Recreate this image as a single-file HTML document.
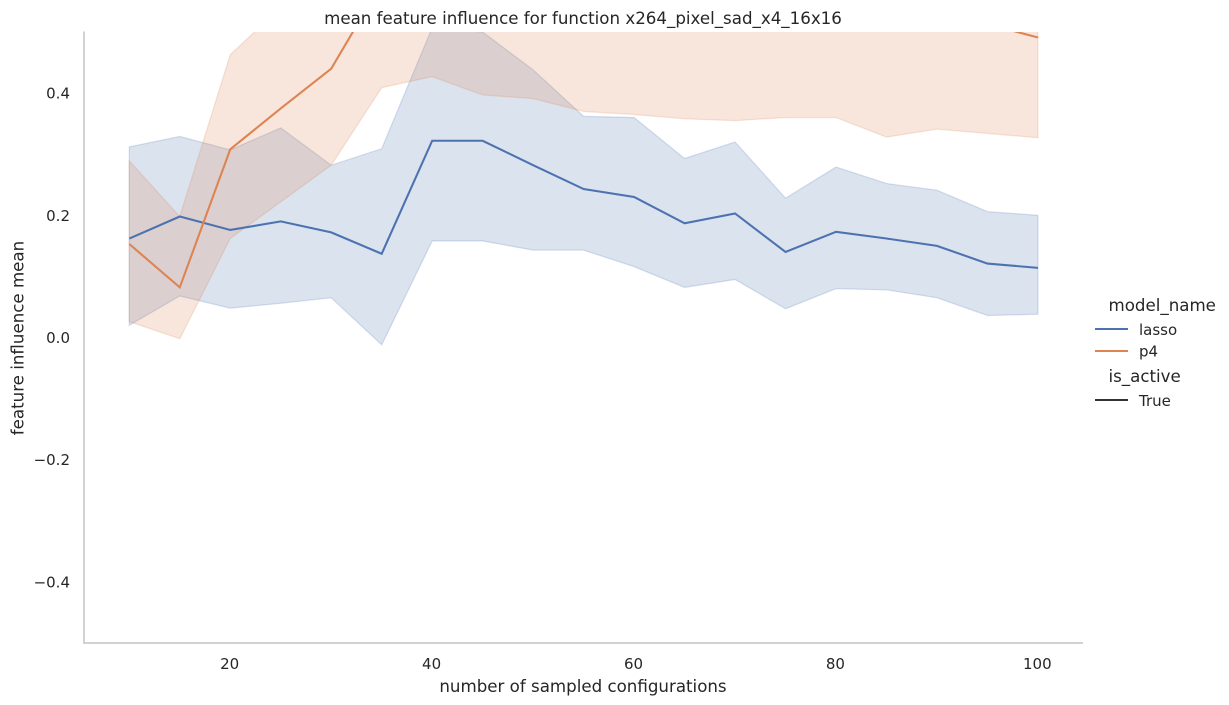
<!DOCTYPE html>
<html lang="en">
<head>
<meta charset="utf-8">
<title>mean feature influence for function x264_pixel_sad_x4_16x16</title>
<style>
html,body{margin:0;padding:0;background:#fff;width:1229px;height:705px;overflow:hidden}
svg{display:block}
text{font-family:"DejaVu Sans","Liberation Sans",sans-serif;fill:#262626}
.tick{font-size:15px}
.label{font-size:16.67px}
</style>
</head>
<body>
<svg id="chart" xmlns="http://www.w3.org/2000/svg" width="1229" height="705" viewBox="0 0 1229 705">
  <defs>
    <clipPath id="plot-clip"><rect x="84" y="32" width="999" height="611"/></clipPath>
  </defs>
  <g id="bands" clip-path="url(#plot-clip)"></g>
  <g id="lines" clip-path="url(#plot-clip)"></g>
  <line x1="84" y1="31.5" x2="84" y2="643" stroke="#cccccc" stroke-width="1.75"/>
  <line x1="83.1" y1="643" x2="1083" y2="643" stroke="#cccccc" stroke-width="1.75"/>
  <g id="x-ticks"></g>
  <g id="y-ticks"></g>
  <text class="label" x="583" y="24" text-anchor="middle">mean feature influence for function x264_pixel_sad_x4_16x16</text>
  <text class="label" x="583" y="692" text-anchor="middle">number of sampled configurations</text>
  <text class="label" transform="translate(23.6 338) rotate(-90)" text-anchor="middle">feature influence mean</text>
  <g>
    <text class="label" x="1108.5" y="311">model_name</text>
    <line x1="1095" y1="329" x2="1128" y2="329" stroke="#4c72b0" stroke-width="2.08"/>
    <text class="tick" x="1139" y="335">lasso</text>
    <line x1="1095" y1="351" x2="1128" y2="351" stroke="#dd8452" stroke-width="2.08"/>
    <text class="tick" x="1139" y="356.5">p4</text>
    <text class="label" x="1108.5" y="382">is_active</text>
    <line x1="1095" y1="400" x2="1128" y2="400" stroke="#333333" stroke-width="2.08"/>
    <text class="tick" x="1139" y="406">True</text>
  </g>
</svg>
<script>
const sampleSizes = [10,15,20,25,30,35,40,45,50,55,60,65,70,75,80,85,90,95,100];
const lassoMean = [0.162,0.198,0.176,0.190,0.172,0.137,0.322,0.322,0.282,0.243,0.230,0.187,0.203,0.140,0.173,0.162,0.150,0.121,0.114];
const lassoLower = [0.020,0.068,0.048,0.056,0.065,-0.012,0.158,0.158,0.143,0.143,0.116,0.082,0.095,0.047,0.080,0.078,0.065,0.036,0.038];
const lassoUpper = [0.312,0.329,0.307,0.343,0.282,0.309,0.507,0.500,0.438,0.362,0.360,0.293,0.320,0.228,0.279,0.252,0.241,0.206,0.200];
const p4Mean = [0.153,0.082,0.308,0.375,0.440,0.580,0.660,0.660,0.640,0.630,0.620,0.610,0.600,0.600,0.590,0.580,0.560,0.513,0.491];
const p4Lower = [0.026,-0.002,0.162,0.222,0.282,0.409,0.427,0.397,0.391,0.370,0.365,0.358,0.355,0.360,0.360,0.328,0.341,0.334,0.327];
const p4Upper = [0.289,0.198,0.463,0.540,0.600,0.680,0.750,0.800,0.800,0.800,0.800,0.800,0.800,0.800,0.800,0.800,0.800,0.750,0.700];
const xTickValues = [20,40,60,80,100];
const xTickLabels = ['20','40','60','80','100'];
const yTickValues = [0.4,0.2,0.0,-0.2,-0.4];
const yTickLabels = ['0.4','0.2','0.0','\u22120.2','\u22120.4'];

const SVG_NS = 'http://www.w3.org/2000/svg';
function xScale(v){ return 129.3 + (v - 10) * 10.096; }
function yScale(v){ return 337.5 - v * 611; }
function linePath(xs, ys){
  return xs.map(function(x, i){ return (i ? 'L' : 'M') + xScale(x).toFixed(2) + ' ' + yScale(ys[i]).toFixed(2); }).join(' ');
}
function bandPath(xs, lower, upper){
  const rx = xs.slice().reverse();
  const ru = upper.slice().reverse();
  return linePath(xs, lower) + ' ' + rx.map(function(x, i){ return 'L' + xScale(x).toFixed(2) + ' ' + yScale(ru[i]).toFixed(2); }).join(' ') + ' Z';
}

const bandsGroup = document.getElementById('bands');
const linesGroup = document.getElementById('lines');

const lassoBand = document.createElementNS(SVG_NS, 'path');


lassoBand.setAttribute('d', bandPath(sampleSizes, lassoLower, lassoUpper));
lassoBand.setAttribute('fill', '#4c72b0');
lassoBand.setAttribute('fill-opacity', '0.2');
lassoBand.setAttribute('stroke', '#4c72b0');
lassoBand.setAttribute('stroke-opacity', '0.2');
lassoBand.setAttribute('stroke-width', '1.3');
bandsGroup.appendChild(lassoBand);

const p4Band = document.createElementNS(SVG_NS, 'path');


p4Band.setAttribute('d', bandPath(sampleSizes, p4Lower, p4Upper));
p4Band.setAttribute('fill', '#dd8452');
p4Band.setAttribute('fill-opacity', '0.2');
p4Band.setAttribute('stroke', '#dd8452');
p4Band.setAttribute('stroke-opacity', '0.2');
p4Band.setAttribute('stroke-width', '1.3');
bandsGroup.appendChild(p4Band);

const lassoLine = document.createElementNS(SVG_NS, 'path');


lassoLine.setAttribute('d', linePath(sampleSizes, lassoMean));
lassoLine.setAttribute('fill', 'none');
lassoLine.setAttribute('stroke', '#4c72b0');
lassoLine.setAttribute('stroke-width', '2.08');
linesGroup.appendChild(lassoLine);

const p4Line = document.createElementNS(SVG_NS, 'path');


p4Line.setAttribute('d', linePath(sampleSizes, p4Mean));
p4Line.setAttribute('fill', 'none');
p4Line.setAttribute('stroke', '#dd8452');
p4Line.setAttribute('stroke-width', '2.08');
linesGroup.appendChild(p4Line);

const xTickGroup = document.getElementById('x-ticks');
xTickValues.forEach(function(v, i){
  const t = document.createElementNS(SVG_NS, 'text');
  
  
  t.setAttribute('class', 'tick');
  t.setAttribute('x', xScale(v) - 0.6);
  t.setAttribute('y', 669);
  t.setAttribute('text-anchor', 'middle');
  t.textContent = xTickLabels[i];
  xTickGroup.appendChild(t);
});

const yTickGroup = document.getElementById('y-ticks');
yTickValues.forEach(function(v, i){
  const t = document.createElementNS(SVG_NS, 'text');
  
  
  t.setAttribute('class', 'tick');
  t.setAttribute('x', 70);
  t.setAttribute('y', yScale(v) + 5.5);
  t.setAttribute('text-anchor', 'end');
  t.textContent = yTickLabels[i];
  yTickGroup.appendChild(t);
});
</script>
</body>
</html>
